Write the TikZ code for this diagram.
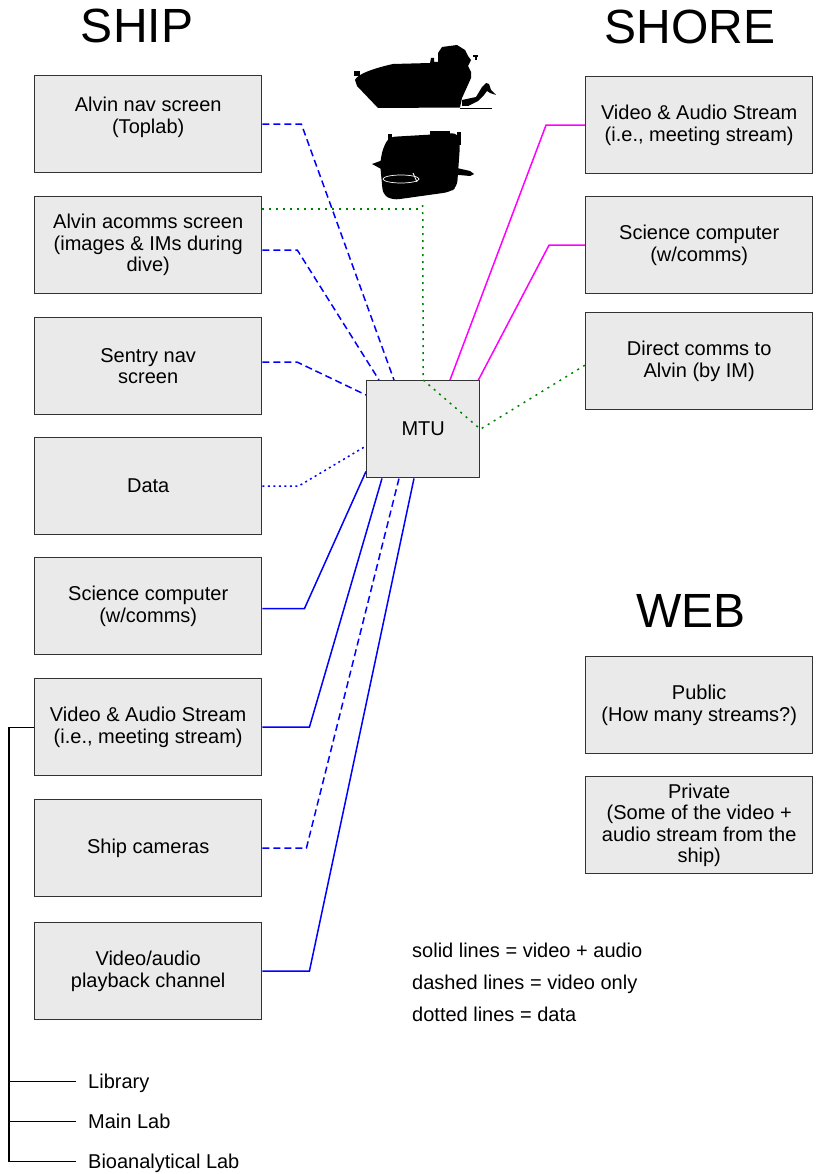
\documentclass[tikz,border=0pt]{standalone}
\usepackage{fontspec}
\setmainfont{Liberation Sans}
\usetikzlibrary{positioning}
\definecolor{boxfill}{HTML}{EAEAEA}
\definecolor{linkblue}{HTML}{0000FF}
\definecolor{linkpink}{HTML}{FF00FF}
\definecolor{linkgreen}{HTML}{008000}
\newcommand\boxfont{\fontsize{20}{21.5}\selectfont}
\newcommand\headfont{\fontsize{48}{52}\selectfont}

\begin{document}
\begin{tikzpicture}[x=1pt,y=-1pt,
  unit/.style={rectangle,draw=black!80,line width=1.4pt,fill=boxfill,minimum width=227pt,minimum height=97pt,inner sep=0,align=center,anchor=north west,font=\boxfont},
  heading/.style={anchor=base,inner sep=0,font=\headfont},
  note/.style={anchor=base west,inner sep=0,font=\boxfont},
  av/.style={draw=linkblue,line width=1.5pt},
  vid/.style={av,dash pattern=on 7pt off 4pt},
  dat/.style={av,dash pattern=on 2pt off 3.5pt},
  shore/.style={draw=linkpink,line width=1.5pt},
  im/.style={draw=linkgreen,line width=1.5pt,dash pattern=on 2pt off 5pt},
  lab/.style={draw=black,line width=1.3pt}]
\useasboundingbox (0,0) rectangle (817,1174);

\node[heading] (ship) at (137,43) {SHIP};
\node[heading] (shoretitle) at (690,44) {SHORE};
\node[heading] (web) at (691,627) {WEB};

% ship side
\node[unit] (alvinnav) at (34,75) {Alvin nav screen\\(Toplab)\\[-4pt]\mbox{}};
\node[unit] (acomms) at (34,196) {Alvin acomms screen\\(images \& IMs during\\dive)};
\node[unit] (sentry) at (34,317) {Sentry nav\\screen};
\node[unit] (data) at (34,437) {Data};
\node[unit] (scicomp) at (34,557) {Science computer\\(w/comms)};
\node[unit] (stream) at (34,678) {Video \& Audio Stream\\(i.e., meeting stream)};
\node[unit] (cameras) at (34,799) {Ship cameras};
\node[unit] (playback) at (34,922) {Video/audio\\playback channel};

% shore side
\node[unit] (shorestream) at (585,76) {Video \& Audio Stream\\(i.e., meeting stream)};
\node[unit] (shorescicomp) at (585,196) {Science computer\\(w/comms)};
\node[unit] (direct) at (585,312) {Direct comms to\\Alvin (by IM)};

% web
\node[unit] (public) at (585,656) {Public\\(How many streams?)};
\node[unit] (private) at (585,776) {Private\\(Some of the video +\\audio stream from the\\ship)};

\node[unit,minimum width=113pt] (mtu) at (366,380) {MTU};

% links into the MTU
\draw[vid] (alvinnav.east) -- ++(39,0) -- ([xshift=28pt]mtu.north west);
\draw[vid] ([yshift=-5pt]acomms.east) -- ++(35,0) -- ([xshift=13pt]mtu.north west);
\draw[vid] ([yshift=4pt]sentry.east) -- ++(35,0) -- ([yshift=-15pt]mtu.north west);
\draw[dat] (data.east) -- ++(36,0) -- ([yshift=-66pt]mtu.north west);
\draw[av] ([yshift=-2.5pt]scicomp.east) -- ++(42,0) -- ([yshift=7pt]mtu.south west);
\draw[av] (stream.east) -- ++(47,0) -- ([xshift=16pt]mtu.south west);
\draw[vid] (cameras.east) -- ++(44,0) -- ([xshift=33pt]mtu.south west);
\draw[av] (playback.east) -- ++(47,0) -- ([xshift=48pt]mtu.south west);
\draw[shore] (shorestream.west) -- ++(-39,0) -- ([xshift=84pt]mtu.north west);
\draw[shore] (shorescicomp.west) -- ++(-36,0) -- ([xshift=-2pt]mtu.north east);

\coordinate (sub) at (422.5,125);
\coordinate (imtap) at ([yshift=-13pt]acomms.north east);
\draw[im] ([yshift=-4pt]direct.west) -- (mtu.east) -- (mtu.north) -- (sub);
\draw[im] (imtap) -- (imtap -| mtu.north);

% labs off the ship stream
\node[note] (library) at (88,1088) {Library};
\node[note] (mainlab) at (88,1128) {Main Lab};
\node[note] (bioanalytical) at (88,1168) {Bioanalytical Lab};
\coordinate (trunk) at (9,1161.5);
\draw[lab] (stream.west) -| (trunk) -- ([shift={(-12pt,6.5pt)}]bioanalytical.base west);
\foreach \room in {library,mainlab} {
  \coordinate (tap) at ([shift={(-12pt,6.5pt)}]\room.base west);
  \draw[lab] (tap) -- (tap -| trunk);
}

% legend
\node[note] (solid) at (412,957) {solid lines = video + audio};
\node[note] (dashed) at (412,989) {dashed lines = video only};
\node[note] (dotted) at (412,1021) {dotted lines = data};

% Alvin
\fill (355,80) .. controls (357,74) and (375,68) .. (393,64) -- (430,63) -- (431,58) -- (434,58) -- (434,62) -- (438,62)
  -- (438,53) -- (442,47) -- (457,45) -- (465,50) -- (468,56) -- (471,60) -- (468,66) -- (471,72) -- (471,78)
  -- (467,87) -- (462,98) -- (460,107.5) -- (378,108) -- (357,86) -- cycle;
\fill (354,71) rectangle (360,76);
\fill (473,55) rectangle (478,57);
\fill (475,57) rectangle (476.5,60);
\fill (462,100) -- (476,97) -- (482,87) -- (486,83) -- (489,84) -- (491,90) -- (496,95) -- (490,93) -- (487,91)
  -- (484,95) -- (478,101) -- (468,106) -- (462,106) -- cycle;
\draw[line width=1.5pt] (460,108.3) -- (492,108.3);

% Sentry
\fill[white] (366,127) rectangle (486,204);
\fill[rounded corners=6pt] (389,137) -- (458,133) -- (460,145) -- (457,187) -- (450,192) -- (393,200) -- (383,195)
  -- (380,163) -- (383,148) -- cycle;
\fill (388,134) rectangle (392,145);
\fill (457,132) rectangle (461,145);
\fill (430,131) rectangle (450,136);
\fill (372,164) -- (383,160) -- (383,170) -- cycle;
\fill (448,166) -- (470,171) -- (474,174) -- (470,176) -- (448,174) -- cycle;
\draw[white,line width=0.7pt] (401,179) ellipse (18pt and 4pt);
\draw[white,line width=0.9pt] (413,173) -- (417,182);
\end{tikzpicture}
\end{document}
